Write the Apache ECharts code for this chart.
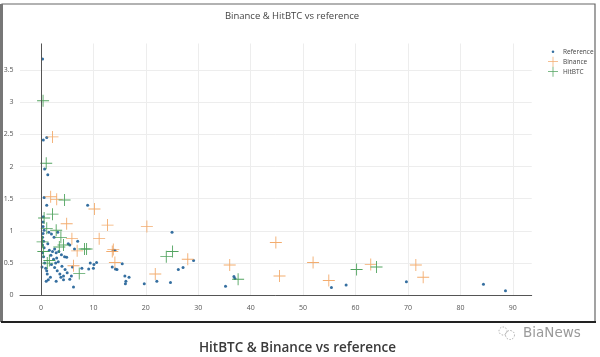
<!DOCTYPE html>
<html>
<head>
<meta charset="utf-8">
<script src="https://cdn.jsdelivr.net/npm/echarts@6/dist/echarts.min.js"></script>
<style>html,body{margin:0;padding:0;background:#fff;}#c{width:600px;height:357px;}</style>
</head>
<body>
<div id="c"></div>
<script>
// ---- data (x, y) ----
var referencePoints = [
  [0.3,3.67],[0.45,2.41],[1.1,2.45],[0.7,1.96],[1.3,1.87],[0.6,1.52],[1.1,1.40],[8.9,1.40],
  [0.45,1.22],[0.4,1.14],[0.4,1.07],[0.6,1.01],[0.4,0.96],[0.3,0.9],[0.5,0.84],[0.3,0.78],
  [0.6,0.74],[0.3,0.66],[0.5,0.6],[0.2,0.44],[0.7,0.5],[0.9,0.42],[1.2,0.33],[1.4,0.24],[1.1,0.38],[1.0,0.22],
  [1.5,0.98],[2.0,0.95],[1.6,0.7],[2.2,0.68],[2.6,0.72],[1.9,0.62],[2.4,0.56],[2.0,0.48],[2.8,0.5],
  [3.0,0.58],[3.3,0.52],[2.6,0.43],[3.1,0.38],[3.6,0.33],[2.9,0.22],[1.8,0.28],[3.2,0.98],[2.5,0.9],
  [1.3,0.8],[2.9,0.66],
  [3.4,0.68],[3.9,0.63],[4.5,0.6],[4.9,0.59],[4.0,0.45],[4.6,0.4],[5.0,0.35],[4.3,0.3],[3.8,0.28],
  [4.3,0.24],[5.5,0.25],[5.8,0.3],[6.0,0.44],[5.5,0.78],[6.4,0.72],[5.2,0.8],
  [7.0,0.84],[6.2,0.13],[7.8,0.42],[9.1,0.41],[9.4,0.5],[10.0,0.42],[10.1,0.48],[10.6,0.51],
  [13.6,0.44],[13.8,0.70],[14.1,0.70],[14.2,0.41],[14.5,0.40],[15.5,0.49],[16.0,0.30],[16.8,0.28],
  [16.2,0.22],[16.1,0.18],[19.7,0.18],[22.1,0.22],[24.7,0.2],[25.0,0.98],[26.2,0.4],[27.1,0.43],[29.1,0.54],
  [35.2,0.14],[36.8,0.29],[37.0,0.26],[55.4,0.12],[58.2,0.16],[69.7,0.21],[84.4,0.17],[88.6,0.07]
];
var binancePoints = [
  [2.2,2.46],[1.85,1.53],[3.0,1.49],[10.2,1.34],[4.9,1.11],[12.7,1.09],[20.2,1.07],[11.1,0.88],
  [5.9,0.88],[6.9,0.69],[13.6,0.68],[13.8,0.71],[14.1,0.51],[6.2,0.46],[21.8,0.33],[28.0,0.56],
  [36.0,0.47],[44.8,0.82],[45.5,0.3],[51.9,0.51],[54.9,0.23],[62.9,0.48],[71.5,0.47],[72.9,0.28]
];
var hitbtcPoints = [
  [0.4,3.02],[1.0,2.05],[4.5,1.48],[2.2,1.26],[0.6,1.2],[1.1,1.04],[2.9,1.01],[3.8,0.9],
  [0.3,0.83],[0.45,0.68],[3.5,0.75],[4.3,0.78],[8.3,0.72],[8.7,0.72],[1.6,0.54],[1.2,0.5],
  [7.3,0.34],[23.9,0.6],[25.1,0.68],[37.6,0.25],[60.2,0.40],[64.0,0.44]
];
var seriesNames = ['Reference','Binance','HitBTC'];
var chartTitle = 'Binance & HitBTC vs reference';
var captionText = 'HitBTC & Binance vs reference';
var brandText = 'BiaNews';

var CROSS = 'path://M0,5.55H12V6.45H0ZM5.55,0H6.45V12H5.55Z';
var DOT_ICON = 'path://M0,0L0.01,0M10,10L10.01,10M5,3.7A1.3,1.3,0,1,1,5,6.3A1.3,1.3,0,1,1,5,3.7Z';

var chart = echarts.init(document.getElementById('c'), null, {renderer:'canvas'});
var axisLabelStyle = {color:'#555', fontSize:7, fontFamily:'Open Sans'};
chart.setOption({
  animation:false,
  backgroundColor:'#fff',
  title:{text:chartTitle, left:287, top:6, textAlign:'center',
    textStyle:{fontFamily:'Open Sans', fontSize:9.5, fontWeight:'normal', color:'#444'}},
  legend:{orient:'vertical', left:548, top:46.7, padding:0, itemWidth:10, itemHeight:10, itemGap:0,
    textStyle:{fontFamily:'Open Sans', fontSize:6.5, color:'#444', padding:[0,0,0,0]},
    data:[{name:seriesNames[0], icon:DOT_ICON},{name:seriesNames[1], icon:CROSS},{name:seriesNames[2], icon:CROSS}]},
  grid:{left:20, right:68.3, top:43.5, bottom:61.7, containLabel:false},
  xAxis:{type:'value', min:-4, max:93.6, splitNumber:10,
    axisLine:{show:true, onZero:false, lineStyle:{color:'#555', width:1}},
    axisTick:{show:false},
    axisLabel:Object.assign({margin:9, showMinLabel:false, showMaxLabel:false}, axisLabelStyle),
    splitLine:{show:true, showMinLine:false, showMaxLine:false, lineStyle:{color:'#ededed', width:1}}},
  yAxis:{type:'value', min:0, max:3.91, splitNumber:8,
    axisLine:{show:false}, axisTick:{show:false},
    axisLabel:Object.assign({margin:6.5, showMaxLabel:false}, axisLabelStyle),
    splitLine:{show:true, showMinLine:false, showMaxLine:false, lineStyle:{color:'#ededed', width:1}}},
  series:[
    {name:seriesNames[0], type:'scatter', data:referencePoints, symbol:'circle', symbolSize:3,
     itemStyle:{color:'#1f5f96', opacity:0.9},
     markLine:{silent:true, symbol:'none', label:{show:false}, animation:false,
       lineStyle:{color:'#555', width:1, type:'solid'}, data:[{xAxis:0}]}},
    {name:seriesNames[1], type:'scatter', data:binancePoints, symbol:CROSS, symbolSize:12,
     itemStyle:{color:'#f2a35e', opacity:0.9}},
    {name:seriesNames[2], type:'scatter', data:hitbtcPoints, symbol:CROSS, symbolSize:12,
     itemStyle:{color:'#3f9a4f', opacity:0.9}}
  ],
  graphic:[
    {type:'rect', silent:true, z:100, shape:{x:2, y:4, width:593, height:318},
     style:{fill:'none', stroke:'#666', lineWidth:1.2}},
    {type:'line', silent:true, z:101, shape:{x1:1.5, y1:4, x2:1.5, y2:322},
     style:{stroke:'#777', lineWidth:3}},
    {type:'line', silent:true, z:101, shape:{x1:1, y1:322, x2:596, y2:322},
     style:{stroke:'#222', lineWidth:2}},
    {type:'text', silent:true, z:101, x:297.5, y:348,
     style:{text:captionText, fill:'#3a3a3a', font:'600 13.5px "Open Sans"', textAlign:'center', textVerticalAlign:'middle'}},
    {type:'circle', silent:true, z:101, shape:{cx:503, cy:331, r:4},
     style:{fill:'none', stroke:'#999', lineWidth:0.8, lineDash:[1.5,1.5]}},
    {type:'circle', silent:true, z:101, shape:{cx:510, cy:335, r:4.5},
     style:{fill:'none', stroke:'#999', lineWidth:0.8, lineDash:[1.5,1.5]}},
    {type:'text', silent:true, z:101, x:523, y:333,
     style:{text:brandText, fill:'#9a9a9a', font:'13.5px "DejaVu Sans"', textAlign:'left', textVerticalAlign:'middle'}}
  ]
});
</script>
</body>
</html>
